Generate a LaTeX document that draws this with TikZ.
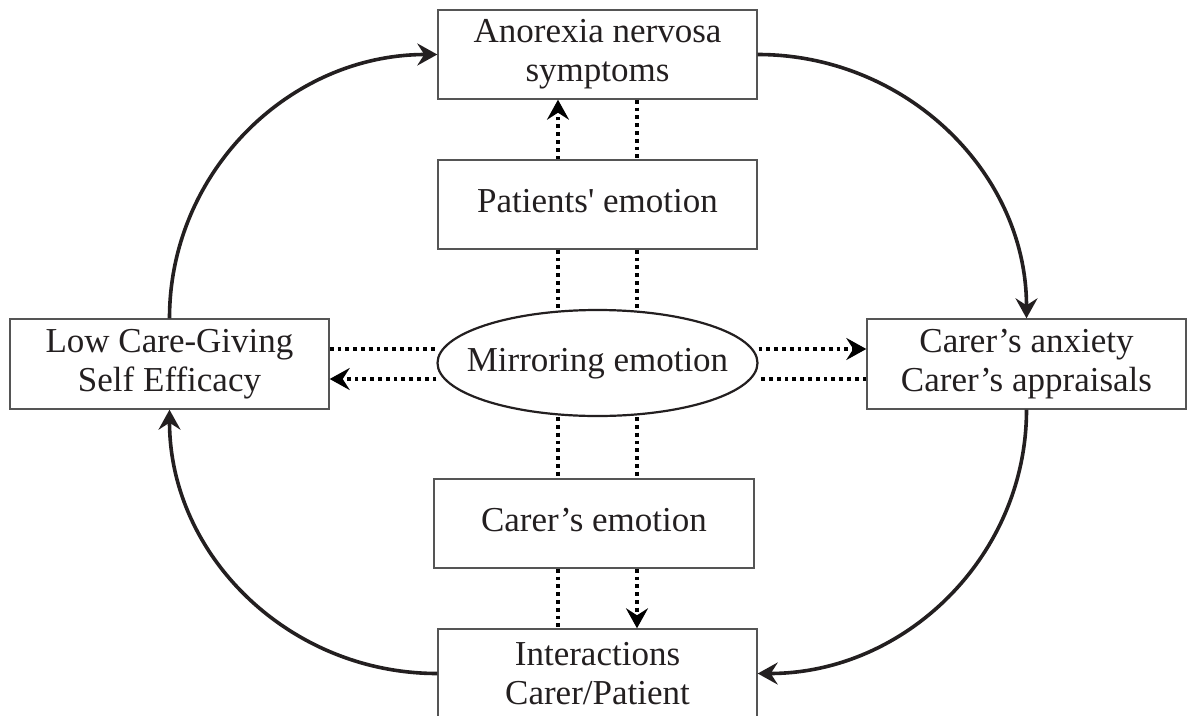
\documentclass[tikz,border=0pt]{standalone}
\usepackage{fontspec}
\setmainfont{Liberation Serif}
\usetikzlibrary{arrows.meta,shapes.geometric}
\definecolor{ink}{HTML}{231F20}
\definecolor{frame}{HTML}{555555}
\begin{document}
\begin{tikzpicture}[x=1pt,y=-1pt,
  font=\fontsize{35}{39}\selectfont,
  box/.style={draw=frame, line width=1.4pt, rectangle, minimum width=319pt,
    minimum height=89pt, inner sep=0pt, align=center, text=ink},
  onebox/.style={box, text height=24pt, text depth=8pt},
  mirror/.style={draw=ink, line width=2.2pt, ellipse, minimum width=320pt,
    minimum height=106pt, inner sep=0pt, text=ink, text height=24pt, text depth=8pt},
  flow/.style={draw=ink, line width=3.6pt,
    -{Stealth[length=20pt,width=22pt,inset=7pt]}},
  dotline/.style={draw=black, line width=4pt, dash pattern=on 3.8pt off 4pt},
  dotarrow/.style={dotline, -{Stealth[length=20pt,width=22pt,inset=7pt]}},
]
\useasboundingbox (0,0) rectangle (1194,715);

% boxes of the cycle
\node[box] (ans) at (597.5,54.5) {Anorexia nervosa\\symptoms};
\node[box, minimum height=90pt] (car) at (1026.5,364) {Carer’s anxiety\\Carer’s appraisals};
\node[box] (int) at (597.5,673.5) {Interactions\\Carer/Patient};
\node[box, minimum height=90pt] (lcg) at (169.5,364) {Low Care-Giving\\Self Efficacy};

% emotion boxes in the middle column
\node[onebox] (pem) at (597.5,204.5) {Patients\textquotesingle{} emotion};
\node[onebox, minimum width=320pt] (cem) at (594,523.5) {Carer’s emotion};
\node[mirror] (me) at (597.5,363) {\makebox[0pt]{Mirroring emotion}};

% guide coordinates for the dotted links
\coordinate (cl) at (558,0);
\coordinate (cr) at (637,0);
\coordinate (hu) at (0,349);
\coordinate (hl) at (0,379);

% outer cycle
\draw[flow] (lcg.north) .. controls +(0,-146) and +(-148,0) .. (ans.west);
\draw[flow] (ans.east) .. controls +(148,0) and +(0,-146) .. (car.north);
\draw[flow] (car.south) .. controls +(0,146) and +(148,0) .. (int.east);
\draw[flow] (int.west) .. controls +(-148,0) and +(0,146) .. (lcg.south);

% vertical dotted links
\draw[dotarrow] (pem.north -| cl) -- (ans.south -| cl);
\draw[dotline] (ans.south -| cr) -- (pem.north -| cr);
\draw[dotline] (pem.south -| cl) -- (cl |- me.north);
\draw[dotline] (pem.south -| cr) -- (cr |- me.north);
\draw[dotline] (cl |- me.south) -- (cem.north -| cl);
\draw[dotline] (cr |- me.south) -- (cem.north -| cr);
\draw[dotline] (cem.south -| cl) -- (int.north -| cl);
\draw[dotarrow] (cem.south -| cr) -- (int.north -| cr);

% horizontal dotted links
\draw[dotline] (hu -| lcg.east) -- (hu -| me.west);
\draw[dotarrow] (hl -| me.west) -- (hl -| lcg.east);
\draw[dotarrow] (hu -| me.east) -- (hu -| car.west);
\draw[dotline] (hl -| car.west) -- (hl -| me.east);
\end{tikzpicture}
\end{document}
